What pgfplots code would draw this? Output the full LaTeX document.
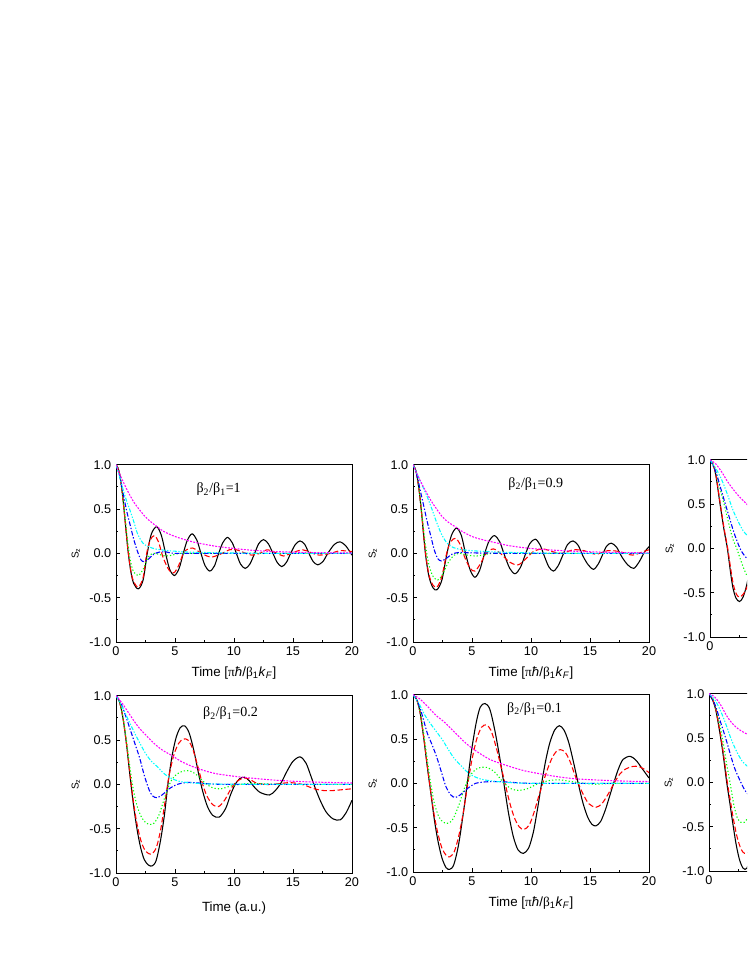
\documentclass[border=0pt]{standalone}
\usepackage{fontspec}
\setmainfont{Liberation Sans}
\newfontfamily\serif{Liberation Serif}
\usepackage{pgfplots}
\pgfplotsset{compat=1.18}
\definecolor{cR}{RGB}{255,0,0}
\definecolor{cG}{RGB}{0,255,0}
\definecolor{cB}{RGB}{0,0,255}
\definecolor{cC}{RGB}{0,255,255}
\definecolor{cM}{RGB}{255,0,255}

\pgfplotsset{
  panel/.style={
    scale only axis, width=177pt, height=133pt,
    xmin=0, xmax=20, ymin=-1, ymax=1,
    xtick={0,5,10,15,20}, xticklabels={0,5,10,15,20},
    ytick={-1,-0.5,0,0.5,1}, yticklabels={-1.0,-0.5,0.0,0.5,1.0},
    minor x tick num=1, minor y tick num=1,
    tick align=inside, tick pos=left,
    major tick length=3pt, minor tick length=1.6pt,
    axis line style={line width=0.7pt},
    every tick/.style={black, line width=0.6pt},
    tick label style={font=\fontsize{9.5}{10}\selectfont},
    ylabel={S\textsubscript{z}},
    ylabel style={font=\fontsize{7.5}{8}\selectfont, at={(axis description cs:-0.17,0.5)}, anchor=center},
    xlabel style={font=\fontsize{10}{12}\selectfont, at={(axis description cs:0.5,-0.175)}, anchor=center},
    xlabel={Time [{\serif π}\textit{ħ}/{\serif β}\textsubscript{1}\textit{k}\textsubscript{\textit{F}}]},
  },
  % third column: only its left edge is inside the picture
  cutpanel/.style={panel, xticklabels={0}, xlabel={}},
  kk/.style={black, line width=0.8pt, smooth, tension=0.5},
  rr/.style={cR, line width=0.8pt, dash pattern=on 4pt off 2pt, smooth, tension=0.5},
  gg/.style={cG, line width=0.8pt, dash pattern=on 0.9pt off 1.6pt, smooth, tension=0.5},
  bb/.style={cB, line width=0.8pt, dash pattern=on 3.5pt off 1.4pt on 1pt off 1.4pt, smooth, tension=0.5},
  cc/.style={cC, line width=0.8pt, dash pattern=on 3pt off 1.2pt on 1pt off 1.2pt on 1pt off 1.2pt, smooth, tension=0.5},
  mm/.style={cM, line width=0.8pt, dash pattern=on 1.4pt off 1pt, smooth, tension=0.5},
}
\newcommand{\ttl}[1]{{\serif β\textsubscript{2}/β\textsubscript{1}=#1}}

\begin{document}
\begin{tikzpicture}
\path[use as bounding box] (0,0) rectangle (560.25pt,-725.25pt);
\clip (0,0) rectangle (560.25pt,-725.25pt);

% top left: beta2/beta1 = 1
\begin{axis}[panel, at={(87pt,-481.5pt)}, anchor=south west]
\addplot[kk] coordinates {(0,1)(0.25,0.93)(0.5,0.72)(0.75,0.4)(1.0,0.05)(1.25,-0.2)(1.5,-0.34)(1.9,-0.40)(2.3,-0.3)(2.65,0)(3.0,0.22)(3.45,0.30)(3.85,0.2)(4.2,0)(4.55,-0.18)(4.95,-0.25)(5.35,-0.17)(5.7,0)(6.05,0.15)(6.45,0.22)(6.85,0.15)(7.2,0)(7.55,-0.14)(7.95,-0.20)(8.35,-0.14)(8.7,0)(9.05,0.12)(9.45,0.18)(9.85,0.12)(10.2,0)(10.55,-0.12)(10.95,-0.17)(11.35,-0.12)(11.75,0)(12.1,0.11)(12.5,0.155)(12.9,0.11)(13.3,0)(13.65,-0.1)(14.05,-0.15)(14.45,-0.1)(14.8,0)(15.2,0.1)(15.6,0.14)(16,0.1)(16.35,0)(16.7,-0.09)(17.1,-0.13)(17.55,-0.09)(17.95,0)(18.5,0.1)(19.0,0.13)(19.5,0.08)(20,-0.02)};
\addplot[rr] coordinates {(0,1)(0.25,0.93)(0.5,0.72)(0.75,0.4)(1.0,0.06)(1.25,-0.19)(1.5,-0.32)(1.9,-0.38)(2.3,-0.27)(2.6,0)(2.9,0.15)(3.25,0.2)(3.6,0.13)(4.0,-0.05)(4.5,-0.19)(4.9,-0.22)(5.3,-0.14)(5.8,0.02)(6.5,0.06)(7.0,0.02)(7.7,-0.03)(8.2,-0.04)(9.0,0.0)(9.6,0.04)(10.2,0.04)(11,0.0)(11.5,-0.02)(12.2,0.0)(12.8,0.04)(13.5,0.01)(14.2,-0.03)(14.8,0.0)(15.8,0.04)(16.5,0.01)(17.2,-0.02)(18.2,0.0)(19.0,0.03)(20,0.02)};
\addplot[gg] coordinates {(0,1)(0.25,0.93)(0.5,0.73)(0.75,0.43)(1.0,0.12)(1.25,-0.1)(1.5,-0.21)(1.9,-0.25)(2.3,-0.18)(2.7,-0.05)(3.1,0.0)(3.6,-0.01)(4.2,-0.03)(4.8,-0.02)(5.5,0.0)(8,0.0)(12,0.0)(16,0.0)(20,0.0)};
\addplot[bb] coordinates {(0,1)(0.3,0.88)(0.6,0.68)(0.9,0.48)(1.2,0.32)(1.5,0.16)(1.8,0.03)(2.1,-0.07)(2.4,-0.095)(2.8,-0.06)(3.2,-0.01)(3.7,0.015)(4.3,0.015)(5,0.0)(8,0.0)(12,0.0)(16,0.0)(20,0.0)};
\addplot[cc] coordinates {(0,1)(0.3,0.87)(0.6,0.72)(0.9,0.59)(1.2,0.48)(1.5,0.36)(1.8,0.23)(2.1,0.15)(2.4,0.1)(2.8,0.075)(3.3,0.05)(4.5,0.03)(6,0.015)(8,0.008)(12,0.0)(16,0.0)(20,0.0)};
\addplot[mm] coordinates {(0,1)(0.3,0.9)(0.6,0.81)(1,0.7)(1.5,0.58)(2,0.49)(2.5,0.41)(3,0.35)(3.4,0.31)(4,0.25)(5,0.19)(6.2,0.14)(7,0.115)(8,0.09)(8.7,0.075)(10,0.055)(11.5,0.035)(13.1,0.022)(15,0.014)(17,0.008)(20,0.004)};
\node at (axis cs:8.7,0.72) {\fontsize{10.5}{12}\selectfont\ttl{1}};
\end{axis}

% top middle: beta2/beta1 = 0.9
\begin{axis}[panel, at={(309.75pt,-481.5pt)}, anchor=south west]
\addplot[kk] coordinates {(0,1)(0.25,0.93)(0.5,0.73)(0.75,0.42)(1.05,0.0)(1.35,-0.26)(1.7,-0.39)(2.04,-0.41)(2.45,-0.3)(2.85,-0.02)(3.25,0.2)(3.69,0.285)(4.1,0.2)(4.45,0)(4.85,-0.19)(5.25,-0.27)(5.65,-0.19)(6.05,-0.01)(6.45,0.14)(6.9,0.2)(7.35,0.13)(7.75,-0.02)(8.2,-0.17)(8.65,-0.23)(9.1,-0.16)(9.5,-0.02)(9.9,0.11)(10.35,0.16)(10.75,0.1)(11.1,-0.02)(11.5,-0.15)(11.9,-0.2)(12.3,-0.14)(12.7,-0.02)(13.1,0.1)(13.56,0.14)(14,0.09)(14.4,-0.03)(14.85,-0.13)(15.3,-0.18)(15.7,-0.12)(16.05,-0.02)(16.4,0.08)(16.8,0.115)(17.25,0.07)(17.7,-0.04)(18.2,-0.13)(18.7,-0.17)(19.15,-0.1)(19.6,0.01)(20,0.075)};
\addplot[rr] coordinates {(0,1)(0.25,0.93)(0.5,0.73)(0.75,0.43)(1.05,0.02)(1.35,-0.24)(1.7,-0.36)(2.04,-0.38)(2.45,-0.26)(2.85,0)(3.2,0.13)(3.6,0.17)(4.0,0.1)(4.4,-0.05)(4.85,-0.17)(5.25,-0.2)(5.7,-0.12)(6.2,0.0)(6.8,0.05)(7.4,0.0)(8.2,-0.1)(8.9,-0.13)(9.5,-0.07)(10.2,0.02)(11,0.05)(11.8,0.02)(12.6,0.0)(13.6,0.04)(14.5,0.03)(15.5,-0.01)(16.5,0.03)(17.5,0.02)(18.6,-0.02)(19.5,0.02)(20,0.04)};
\addplot[gg] coordinates {(0,1)(0.25,0.93)(0.5,0.74)(0.75,0.45)(1.05,0.1)(1.35,-0.13)(1.7,-0.26)(2.1,-0.3)(2.5,-0.24)(3.0,-0.1)(3.5,-0.02)(4.0,0.0)(4.6,-0.02)(5.4,-0.03)(6.2,-0.01)(7,0)(10,0)(14,0)(20,0)};
\addplot[bb] coordinates {(0,1)(0.3,0.9)(0.6,0.72)(0.9,0.54)(1.2,0.36)(1.5,0.2)(1.8,0.04)(2.1,-0.06)(2.4,-0.085)(2.8,-0.06)(3.3,-0.01)(3.9,0.01)(5,0.005)(8,0)(12,0)(16,0)(20,0)};
\addplot[cc] coordinates {(0,1)(0.4,0.88)(0.8,0.76)(1.2,0.64)(1.6,0.5)(2.0,0.35)(2.4,0.22)(2.8,0.13)(3.2,0.08)(3.8,0.05)(5,0.03)(7,0.015)(10,0.005)(14,0)(20,0)};
\addplot[mm] coordinates {(0,1)(0.5,0.85)(1,0.72)(1.5,0.6)(2,0.5)(2.5,0.41)(3,0.35)(3.7,0.29)(4,0.26)(5,0.19)(6,0.15)(7,0.12)(8,0.09)(9,0.07)(10,0.055)(12,0.035)(14,0.022)(16,0.014)(18,0.008)(20,0.005)};
\node at (axis cs:10.4,0.78) {\fontsize{10.5}{12}\selectfont\ttl{0.9}};
\end{axis}

% top right (cut off by the picture edge)
\begin{axis}[cutpanel, at={(532.5pt,-477.75pt)}, anchor=south west]
\addplot[kk] coordinates {(0,1)(0.25,0.95)(0.5,0.82)(0.85,0.5)(1.2,0.2)(1.47,0)(1.75,-0.28)(1.95,-0.45)(2.2,-0.56)(2.5,-0.6)(2.8,-0.55)(3.1,-0.42)(3.4,-0.22)(3.7,0.0)};
\addplot[rr] coordinates {(0,1)(0.25,0.95)(0.5,0.83)(0.85,0.52)(1.2,0.22)(1.5,0)(1.8,-0.27)(2.0,-0.42)(2.25,-0.52)(2.5,-0.55)(2.8,-0.52)(3.1,-0.45)(3.4,-0.33)(3.7,-0.2)};
\addplot[gg] coordinates {(0,1)(0.4,0.9)(0.8,0.7)(1.19,0.5)(1.5,0.33)(1.9,0.12)(2.26,0)(2.7,-0.17)(3.1,-0.3)(3.5,-0.36)(3.8,-0.38)};
\addplot[bb] coordinates {(0,1)(0.5,0.86)(0.9,0.68)(1.3,0.5)(1.7,0.32)(2.1,0.15)(2.54,0)(2.8,-0.06)(3.1,-0.11)(3.5,-0.15)(3.8,-0.16)};
\addplot[cc] coordinates {(0,1)(0.5,0.9)(1.0,0.77)(1.5,0.6)(1.95,0.43)(2.4,0.3)(2.8,0.2)(3.1,0.155)(3.5,0.11)};
\addplot[mm] coordinates {(0,1)(0.5,0.95)(1,0.86)(1.5,0.75)(2,0.66)(2.5,0.58)(3.1,0.5)(3.5,0.45)};
\end{axis}

% bottom left: beta2/beta1 = 0.2
\begin{axis}[panel, at={(87pt,-654.75pt)}, anchor=south west,
  xlabel={Time (a.u.)}, xlabel style={at={(axis description cs:0.5,-0.2)}}]
\addplot[kk] coordinates {(0,1)(0.3,0.93)(0.6,0.74)(0.9,0.44)(1.2,0.08)(1.5,-0.25)(1.8,-0.52)(2.1,-0.72)(2.4,-0.85)(2.75,-0.91)(3.07,-0.92)(3.4,-0.86)(3.75,-0.65)(4.1,-0.35)(4.4,0.0)(4.75,0.32)(5.1,0.53)(5.45,0.64)(5.82,0.66)(6.2,0.58)(6.6,0.38)(7.0,0.12)(7.35,-0.08)(7.75,-0.25)(8.2,-0.35)(8.75,-0.37)(9.3,-0.27)(9.7,-0.12)(10.1,0.0)(10.5,0.065)(10.9,0.08)(11.3,0.04)(11.65,-0.02)(12.2,-0.09)(13.0,-0.12)(13.5,-0.07)(14.0,0.02)(14.5,0.15)(15.0,0.26)(15.6,0.31)(16.1,0.24)(16.5,0.1)(16.85,-0.03)(17.3,-0.18)(17.8,-0.31)(18.4,-0.39)(19.0,-0.4)(19.5,-0.32)(20,-0.18)};
\addplot[rr] coordinates {(0,1)(0.3,0.93)(0.6,0.74)(0.9,0.45)(1.2,0.1)(1.5,-0.22)(1.8,-0.46)(2.1,-0.63)(2.4,-0.73)(2.75,-0.78)(3.1,-0.78)(3.45,-0.7)(3.8,-0.5)(4.15,-0.2)(4.5,0.1)(4.9,0.33)(5.3,0.46)(5.7,0.51)(6.1,0.5)(6.5,0.4)(6.9,0.22)(7.3,0.02)(7.7,-0.13)(8.2,-0.23)(8.7,-0.25)(9.2,-0.18)(9.7,-0.06)(10.2,0.03)(10.8,0.07)(11.3,0.06)(11.8,0.02)(12.5,0.0)(13.3,0.0)(14,0.01)(14.7,0.02)(15.4,0.01)(16,-0.01)(16.8,-0.05)(17.6,-0.07)(18.4,-0.07)(19.2,-0.06)(20,-0.05)};
\addplot[gg] coordinates {(0,1)(0.3,0.93)(0.6,0.75)(0.9,0.48)(1.2,0.17)(1.5,-0.08)(1.8,-0.25)(2.2,-0.38)(2.6,-0.44)(3.1,-0.45)(3.6,-0.36)(4.1,-0.16)(4.6,0.02)(5.1,0.11)(5.7,0.15)(6.3,0.15)(6.9,0.1)(7.5,0.02)(8.2,-0.04)(8.9,-0.05)(9.7,-0.02)(10.5,0.0)(11.5,0.01)(14,0)(17,0)(20,0)};
\addplot[bb] coordinates {(0,1)(0.4,0.92)(0.8,0.78)(1.2,0.62)(1.6,0.46)(2.0,0.3)(2.4,0.1)(2.8,-0.06)(3.1,-0.13)(3.45,-0.15)(3.9,-0.12)(4.5,-0.05)(5.2,0.0)(5.9,0.02)(6.6,0.02)(7.5,0.01)(9,0)(13,0)(17,0)(20,0)};
\addplot[cc] coordinates {(0,1)(0.5,0.88)(1.0,0.74)(1.5,0.6)(2.0,0.47)(2.5,0.35)(3.0,0.26)(3.5,0.2)(4.0,0.13)(4.5,0.08)(5.0,0.05)(5.5,0.03)(6.5,0.015)(8,0.005)(12,0)(16,0)(20,0)};
\addplot[mm] coordinates {(0,1)(0.5,0.92)(1,0.82)(1.5,0.72)(2,0.63)(2.5,0.56)(3,0.49)(3.5,0.43)(4,0.38)(4.8,0.32)(5.5,0.26)(6.5,0.2)(7.6,0.15)(8.5,0.12)(9.5,0.1)(10.4,0.085)(11.5,0.07)(13.2,0.05)(15,0.035)(17,0.025)(20,0.015)};
\node at (axis cs:9.7,0.8) {\fontsize{10.5}{12}\selectfont\ttl{0.2}};
\end{axis}

% bottom middle: beta2/beta1 = 0.1
\begin{axis}[panel, at={(309.75pt,-654pt)}, anchor=south west]
\addplot[kk] coordinates {(0,1)(0.3,0.95)(0.6,0.8)(0.9,0.52)(1.2,0.2)(1.5,-0.1)(1.8,-0.4)(2.1,-0.64)(2.45,-0.84)(2.8,-0.95)(3.1,-0.97)(3.45,-0.92)(3.85,-0.7)(4.25,-0.35)(4.6,0.0)(4.95,0.36)(5.35,0.68)(5.7,0.86)(6.1,0.9)(6.5,0.84)(6.9,0.62)(7.3,0.33)(7.7,0.0)(8.1,-0.34)(8.5,-0.6)(8.9,-0.75)(9.35,-0.79)(9.8,-0.73)(10.2,-0.55)(10.55,-0.29)(10.9,0.0)(11.25,0.26)(11.6,0.46)(12.0,0.6)(12.4,0.65)(12.8,0.6)(13.2,0.46)(13.6,0.24)(14.0,0.0)(14.4,-0.22)(14.8,-0.38)(15.15,-0.46)(15.5,-0.48)(15.9,-0.43)(16.3,-0.3)(16.65,-0.15)(17.0,0.0)(17.4,0.16)(17.8,0.27)(18.4,0.305)(18.9,0.26)(19.4,0.17)(20,0.06)};
\addplot[rr] coordinates {(0,1)(0.3,0.95)(0.6,0.8)(0.9,0.53)(1.2,0.21)(1.5,-0.09)(1.8,-0.36)(2.1,-0.56)(2.45,-0.73)(2.8,-0.81)(3.1,-0.83)(3.5,-0.77)(3.9,-0.58)(4.3,-0.3)(4.65,0.0)(5.0,0.27)(5.4,0.5)(5.8,0.63)(6.2,0.66)(6.6,0.6)(7.0,0.43)(7.4,0.22)(7.8,0.0)(8.2,-0.22)(8.6,-0.39)(9.0,-0.49)(9.4,-0.52)(9.85,-0.47)(10.25,-0.33)(10.6,-0.17)(11.0,0.0)(11.4,0.16)(11.8,0.29)(12.15,0.36)(12.5,0.38)(12.9,0.35)(13.3,0.25)(13.65,0.12)(14.0,0.0)(14.45,-0.13)(14.9,-0.23)(15.5,-0.27)(16.0,-0.23)(16.5,-0.13)(17.0,-0.01)(17.5,0.1)(18.0,0.16)(18.6,0.19)(19.1,0.19)(19.6,0.16)(20,0.12)};
\addplot[gg] coordinates {(0,1)(0.3,0.95)(0.6,0.81)(0.9,0.57)(1.2,0.28)(1.5,0.0)(1.8,-0.22)(2.2,-0.38)(2.6,-0.44)(3.0,-0.45)(3.4,-0.4)(3.9,-0.24)(4.4,-0.04)(4.9,0.1)(5.5,0.17)(6.25,0.18)(6.9,0.13)(7.6,0.02)(8.3,-0.06)(9.0,-0.08)(9.7,-0.06)(10.5,-0.01)(11.5,0.03)(12.4,0.04)(13.4,0.02)(14.5,0.0)(15.5,-0.01)(17,0.0)(20,0.0)};
\addplot[bb] coordinates {(0,1)(0.4,0.92)(0.8,0.76)(1.2,0.57)(1.6,0.44)(2.0,0.3)(2.4,0.13)(2.8,-0.04)(3.2,-0.13)(3.57,-0.16)(4.0,-0.13)(4.6,-0.06)(5.3,0.0)(6.0,0.015)(6.8,0.02)(7.6,0.018)(8.5,0.01)(10,0)(14,0)(20,0)};
\addplot[cc] coordinates {(0,1)(0.5,0.9)(1.0,0.77)(1.5,0.67)(2.0,0.58)(2.5,0.49)(3.0,0.38)(3.5,0.28)(4.0,0.21)(4.5,0.14)(5.0,0.09)(5.7,0.05)(6.5,0.03)(8,0.01)(10,0)(15,0)(20,0)};
\addplot[mm] coordinates {(0,1)(0.5,0.96)(1,0.9)(1.5,0.83)(2,0.76)(2.58,0.7)(3.5,0.58)(4.5,0.45)(5.4,0.36)(6.5,0.27)(7.3,0.23)(8.2,0.19)(9.5,0.14)(11.1,0.1)(12.5,0.07)(13.9,0.05)(16,0.035)(18,0.025)(20,0.02)};
\node at (axis cs:10.3,0.84) {\fontsize{10.5}{12}\selectfont\ttl{0.1}};
\end{axis}

% bottom right (cut off by the picture edge)
\begin{axis}[cutpanel, at={(531.75pt,-653.25pt)}, anchor=south west]
\addplot[kk] coordinates {(0,1)(0.3,0.93)(0.6,0.8)(0.99,0.5)(1.25,0.26)(1.5,0.0)(1.75,-0.22)(1.98,-0.43)(2.3,-0.7)(2.6,-0.88)(2.9,-0.97)(3.2,-0.97)(3.5,-0.85)};
\addplot[rr] coordinates {(0,1)(0.3,0.94)(0.6,0.81)(1.0,0.52)(1.3,0.25)(1.55,0.0)(1.8,-0.2)(2.05,-0.4)(2.35,-0.6)(2.7,-0.75)(3.0,-0.8)(3.3,-0.79)(3.6,-0.7)};
\addplot[gg] coordinates {(0,1)(0.4,0.92)(0.8,0.72)(1.2,0.45)(1.5,0.2)(1.78,0.0)(2.1,-0.25)(2.4,-0.4)(2.7,-0.45)(3.0,-0.45)(3.4,-0.38)};
\addplot[bb] coordinates {(0,1)(0.5,0.88)(1.0,0.67)(1.41,0.5)(1.8,0.32)(2.2,0.15)(2.7,0.0)(3.0,-0.08)(3.27,-0.13)(3.6,-0.16)};
\addplot[cc] coordinates {(0,1)(0.5,0.93)(1.0,0.8)(1.5,0.63)(1.84,0.5)(2.3,0.36)(2.8,0.24)(3.27,0.18)(3.6,0.14)};
\addplot[mm] coordinates {(0,1)(0.5,0.96)(1.0,0.87)(1.5,0.75)(2.0,0.66)(2.5,0.6)(3.0,0.56)(3.27,0.54)(3.6,0.51)};
\end{axis}
\end{tikzpicture}
\end{document}
